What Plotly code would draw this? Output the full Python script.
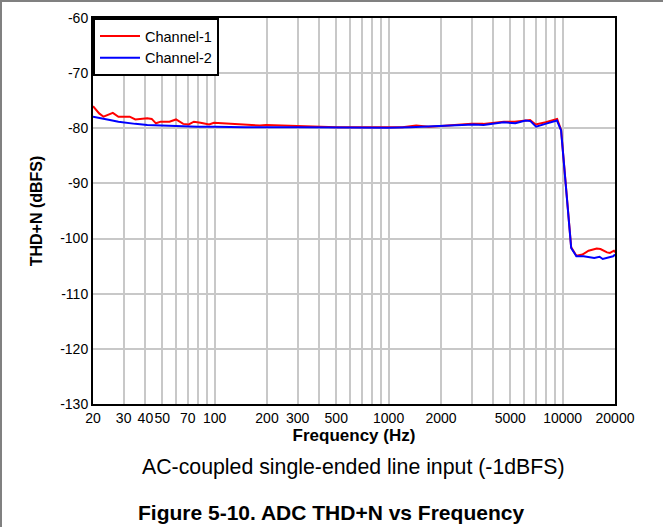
import plotly.graph_objects as go

# ---- data ----
ch1_freq = [20, 21.7, 23, 26, 28, 32.5, 35, 41, 43.5, 46, 49, 55, 60, 66, 71, 76, 83, 93, 99,
            112, 127, 153, 182, 198, 236, 283, 350, 500, 800, 1200, 1440, 1700, 2000, 2500,
            3000, 3500, 4000, 4600, 5300, 6100, 6500, 7000, 8000, 9300, 9800, 11200, 12000,
            13000, 14100, 15700, 16500, 18000, 18700, 19700, 20000]
ch1_thdn = [-76.0, -77.3, -77.9, -77.2, -77.9, -77.9, -78.4, -78.2, -78.3, -79.1, -78.8, -78.8,
            -78.4, -79.2, -79.3, -78.8, -79.0, -79.3, -79.0, -79.1, -79.3, -79.4, -79.5, -79.4,
            -79.5, -79.5, -79.7, -79.8, -79.8, -79.8, -79.5, -79.7, -79.6, -79.4, -79.2, -79.2,
            -79.0, -78.8, -78.8, -78.5, -78.5, -79.3, -78.9, -78.3, -80.3, -101.6, -103.1,
            -102.9, -102.2, -101.8, -101.9, -102.5, -102.6, -102.2, -102.5]

ch2_freq = [20, 22, 25, 28, 31, 35, 41, 50, 60, 80, 100, 150, 300, 600, 1000, 1330, 1970, 2500,
            3080, 3510, 4000, 4580, 5350, 6120, 6530, 7040, 7960, 9280, 9800, 11200, 12000,
            13200, 15200, 16300, 17000, 18500, 19500, 20000]
ch2_thdn = [-77.9, -78.2, -78.5, -78.8, -79.0, -79.2, -79.4, -79.5, -79.6, -79.7, -79.7, -79.8,
            -79.8, -79.9, -79.9, -79.8, -79.6, -79.5, -79.3, -79.4, -79.1, -78.9, -79.1, -78.6,
            -78.7, -79.7, -79.2, -78.6, -80.4, -101.7, -103.2, -103.2, -103.5, -103.3, -103.7,
            -103.4, -103.2, -102.9]

x_tick_vals = [20, 30, 40, 50, 70, 100, 200, 300, 500, 1000, 2000, 5000, 10000, 20000]
x_tick_text = [str(v) for v in x_tick_vals]
x_minor_grid = [60, 80, 90, 400, 600, 700, 800, 900, 3000, 4000, 6000, 7000, 8000, 9000]
y_tick_vals = [-60, -70, -80, -90, -100, -110, -120, -130]
y_tick_text = [str(v) for v in y_tick_vals]

series_names = ["Channel-1", "Channel-2"]
series_colors = ["#ff0000", "#0000ff"]

FONT = "Arial, Liberation Sans, sans-serif"

fig = go.Figure()
fig.add_trace(go.Scatter(x=ch1_freq, y=ch1_thdn, mode="lines", name=series_names[0],
                         line=dict(color=series_colors[0], width=2)))
fig.add_trace(go.Scatter(x=ch2_freq, y=ch2_thdn, mode="lines", name=series_names[1],
                         line=dict(color=series_colors[1], width=2)))

L, R, T, B = 93, 48, 18, 123
W, H = 663, 527
pw, ph = W - L - R, H - T - B

fig.update_layout(
    width=W, height=H,
    margin=dict(l=L, r=R, t=T, b=B, pad=0, autoexpand=False),
    paper_bgcolor="white", plot_bgcolor="white",
    font=dict(family=FONT, size=14, color="black"),
    showlegend=True,
    legend=dict(x=0, y=1, xanchor="left", yanchor="top",
                bgcolor="white", bordercolor="black", borderwidth=2,
                font=dict(size=14.5), tracegroupgap=0, itemwidth=40),
    xaxis=dict(type="log", range=[1.30103, 4.30103], automargin=False,
               tickmode="array", tickvals=x_tick_vals, ticktext=x_tick_text, tickangle=0,
               ticks="", showgrid=True, gridcolor="#c8c8c8", gridwidth=1.5,
               minor=dict(tickmode="array", tickvals=x_minor_grid, showgrid=True,
                          gridcolor="#c8c8c8", gridwidth=1.5, ticks=""),
               showline=True, linecolor="black", linewidth=2, mirror=True,
               zeroline=False, tickfont=dict(size=14),
               title=dict(text="<b>Frequency (Hz)</b>", font=dict(size=17), standoff=0)),
    yaxis=dict(range=[-130, -60], automargin=False, tickmode="array",
               tickvals=y_tick_vals, ticktext=y_tick_text,
               ticks="", showgrid=True, gridcolor="#c8c8c8", gridwidth=1.5,
               showline=True, linecolor="black", linewidth=2, mirror=True,
               zeroline=False, tickfont=dict(size=14),
               title=dict(text="<b>THD+N (dBFS)</b>", font=dict(size=16), standoff=14)),
    annotations=[
        dict(text="AC-coupled single-ended line input (-1dBFS)", xref="paper", yref="paper",
             x=(353 - L) / pw, y=(H - 467 - B) / ph, xanchor="center", yanchor="middle",
             showarrow=False, font=dict(size=21.3)),
        dict(text="<b>Figure 5-10. ADC THD+N vs Frequency</b>", xref="paper", yref="paper",
             x=(331 - L) / pw, y=(H - 512 - B) / ph, xanchor="center", yanchor="middle",
             showarrow=False, font=dict(size=21)),
    ],
    shapes=[
        dict(type="line", xref="paper", yref="paper", x0=-L / pw, x1=(W - L) / pw,
             y0=(H - B - 1) / ph, y1=(H - B - 1) / ph, line=dict(color="#808080", width=2)),
        dict(type="line", xref="paper", yref="paper", x0=(-L + 1) / pw, x1=(-L + 1) / pw,
             y0=-B / ph, y1=(H - B) / ph, line=dict(color="#808080", width=2)),
    ],
)

fig.write_html("out.html", config={"displayModeBar": False},
               post_script="document.body.style.margin='0';document.body.style.overflow='hidden';")
